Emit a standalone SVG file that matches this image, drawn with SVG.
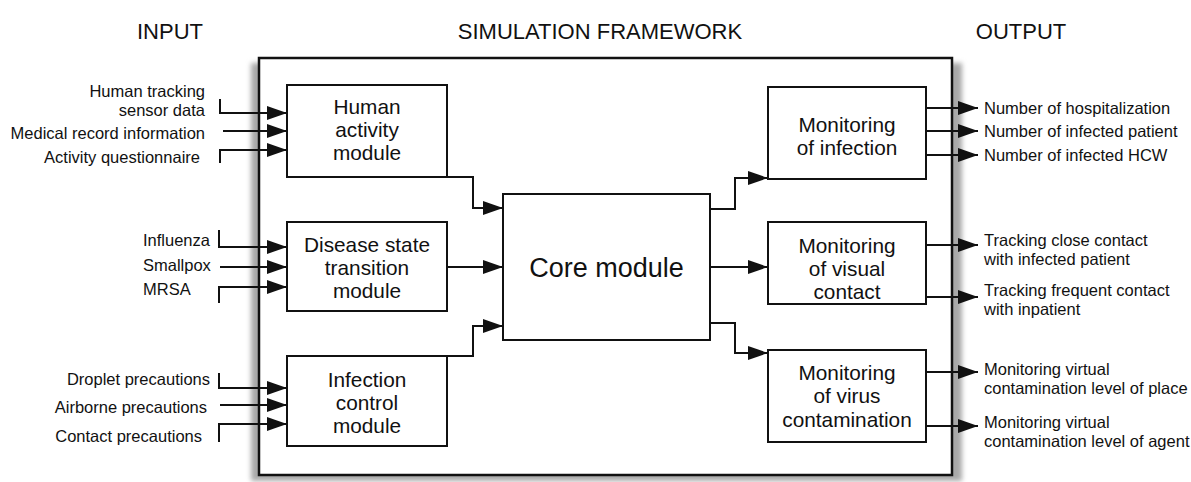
<svg xmlns="http://www.w3.org/2000/svg" width="1191" height="482" viewBox="0 0 1191 482">
<style>
text{font-family:"Liberation Sans",Arial,Helvetica,sans-serif;fill:#111}
.hdr{font-size:22px}
.lbl{font-size:16.5px}
.mod{font-size:20.8px;text-anchor:middle}
.core{font-size:27px;text-anchor:middle}
.box{fill:#fff;stroke:#111;stroke-width:2}
.ln{fill:none;stroke:#111;stroke-width:2}
.end{text-anchor:end}
</style>
<defs>
<marker id="ah" markerUnits="userSpaceOnUse" markerWidth="20" markerHeight="14" refX="20" refY="7" orient="auto">
<path d="M0,0 L20,7 L0,14 z" fill="#111"/>
</marker>
<filter id="blur" x="-5%" y="-5%" width="110%" height="110%"><feGaussianBlur stdDeviation="2.5"/></filter>
</defs>
<rect width="1191" height="482" fill="#fff"/>
<g id="headers">
<text class="hdr" x="170" y="39" text-anchor="middle">INPUT</text>
<text class="hdr" x="600" y="39" text-anchor="middle">SIMULATION FRAMEWORK</text>
<text class="hdr" x="1021" y="39" text-anchor="middle">OUTPUT</text>
</g>
<g id="framework">
<rect x="251" y="63" width="711" height="418" fill="#a8a8a8" filter="url(#blur)"/>
<rect x="259" y="58" width="693" height="417" fill="#fff" stroke="#111" stroke-width="2.5"/>
</g>
<g id="human-activity">
<rect class="box" x="287" y="85" width="160" height="92"/>
<text class="mod" x="367" y="114">Human</text>
<text class="mod" x="367" y="137">activity</text>
<text class="mod" x="367" y="160">module</text>
</g>
<g id="disease-state">
<rect class="box" x="287" y="222" width="160" height="89"/>
<text class="mod" x="367" y="252">Disease state</text>
<text class="mod" x="367" y="275">transition</text>
<text class="mod" x="367" y="298">module</text>
</g>
<g id="infection-control">
<rect class="box" x="287" y="356" width="160" height="90"/>
<text class="mod" x="367" y="387">Infection</text>
<text class="mod" x="367" y="410">control</text>
<text class="mod" x="367" y="433">module</text>
</g>
<g id="core-module">
<rect class="box" x="503" y="194" width="207" height="146"/>
<text class="core" x="606.5" y="277">Core module</text>
</g>
<g id="monitoring-infection">
<rect class="box" x="768" y="87" width="158" height="92"/>
<text class="mod" x="847" y="132">Monitoring</text>
<text class="mod" x="847" y="155">of infection</text>
</g>
<g id="monitoring-visual">
<rect class="box" x="768" y="222" width="158" height="82"/>
<text class="mod" x="847" y="253">Monitoring</text>
<text class="mod" x="847" y="276">of visual</text>
<text class="mod" x="847" y="299">contact</text>
</g>
<g id="monitoring-virus">
<rect class="box" x="768" y="350" width="158" height="92"/>
<text class="mod" x="847" y="380">Monitoring</text>
<text class="mod" x="847" y="403">of virus</text>
<text class="mod" x="847" y="427">contamination</text>
</g>
<g id="input-labels">
<text class="lbl end" x="205" y="97">Human tracking</text>
<text class="lbl end" x="205" y="116">sensor data</text>
<text class="lbl end" x="205" y="139">Medical record information</text>
<text class="lbl end" x="200" y="163">Activity questionnaire</text>
<text class="lbl" x="143" y="246">Influenza</text>
<text class="lbl" x="143" y="271">Smallpox</text>
<text class="lbl" x="143" y="295">MRSA</text>
<text class="lbl end" x="210" y="385">Droplet precautions</text>
<text class="lbl end" x="207" y="413">Airborne precautions</text>
<text class="lbl end" x="202" y="442">Contact precautions</text>
</g>
<g id="output-labels">
<text class="lbl" x="984" y="114">Number of hospitalization</text>
<text class="lbl" x="984" y="137">Number of infected patient</text>
<text class="lbl" x="984" y="161">Number of infected HCW</text>
<text class="lbl" x="984" y="246">Tracking close contact</text>
<text class="lbl" x="984" y="265">with infected patient</text>
<text class="lbl" x="984" y="296">Tracking frequent contact</text>
<text class="lbl" x="984" y="315">with inpatient</text>
<text class="lbl" x="984" y="375">Monitoring virtual</text>
<text class="lbl" x="984" y="394">contamination level of place</text>
<text class="lbl" x="984" y="428">Monitoring virtual</text>
<text class="lbl" x="984" y="447">contamination level of agent</text>
</g>
<g id="connectors" class="ln">
<polyline class="ln" points="220,99 220,113 287,113" marker-end="url(#ah)"/>
<polyline class="ln" points="223,131 287,131" marker-end="url(#ah)"/>
<polyline class="ln" points="220,163 220,150 287,150" marker-end="url(#ah)"/>
<polyline class="ln" points="219,230 219,247 287,247" marker-end="url(#ah)"/>
<polyline class="ln" points="220,267 287,267" marker-end="url(#ah)"/>
<polyline class="ln" points="219,303 219,287 287,287" marker-end="url(#ah)"/>
<polyline class="ln" points="219,373 219,388 287,388" marker-end="url(#ah)"/>
<polyline class="ln" points="220,405 287,405" marker-end="url(#ah)"/>
<polyline class="ln" points="219,442 219,424 287,424" marker-end="url(#ah)"/>
<polyline class="ln" points="447,177 473,177 473,208 503,208" marker-end="url(#ah)"/>
<polyline class="ln" points="447,267 503,267" marker-end="url(#ah)"/>
<polyline class="ln" points="447,356 473,356 473,326 503,326" marker-end="url(#ah)"/>
<polyline class="ln" points="710,209 735,209 735,178 768,178" marker-end="url(#ah)"/>
<polyline class="ln" points="710,267 768,267" marker-end="url(#ah)"/>
<polyline class="ln" points="710,323 735,323 735,353 768,353" marker-end="url(#ah)"/>
<polyline class="ln" points="926,108 978,108" marker-end="url(#ah)"/>
<polyline class="ln" points="926,131 978,131" marker-end="url(#ah)"/>
<polyline class="ln" points="926,155 978,155" marker-end="url(#ah)"/>
<polyline class="ln" points="926,245 978,245" marker-end="url(#ah)"/>
<polyline class="ln" points="926,297 978,297" marker-end="url(#ah)"/>
<polyline class="ln" points="926,372 978,372" marker-end="url(#ah)"/>
<polyline class="ln" points="926,426 978,426" marker-end="url(#ah)"/>
</g>
</svg>
